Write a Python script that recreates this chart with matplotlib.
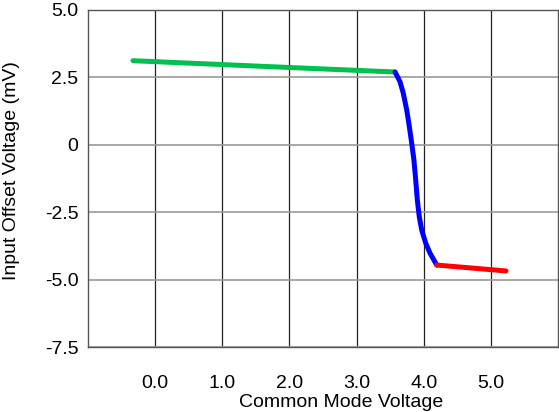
import matplotlib.pyplot as plt

plt.rcParams['font.family'] = ['Liberation Sans', 'DejaVu Sans']

# Offset voltage vs common mode voltage, split into three regions
green_x = [-0.33, 1.6, 3.573]
green_y = [3.12, 2.91, 2.70]

blue_x = [3.573, 3.647, 3.696, 3.747, 3.786, 3.821, 3.854, 3.881, 3.905,
          3.934, 3.970, 4.030, 4.094, 4.194]
blue_y = [2.70, 2.34, 1.91, 1.29, 0.67, 0.06, -0.56, -1.31, -2.05,
          -2.67, -3.16, -3.65, -4.02, -4.46]

red_x = [4.194, 5.226]
red_y = [-4.46, -4.68]

x_ticks = [0, 1, 2, 3, 4, 5]
x_labels = ['0.0', '1.0', '2.0', '3.0', '4.0', '5.0']
y_ticks = [-7.5, -5.0, -2.5, 0, 2.5, 5.0]
y_labels = ['-7.5', '-5.0', '-2.5', '0', '2.5', '5.0']

fig = plt.figure(figsize=(5.59, 4.12), dpi=100)
ax = fig.add_axes([88 / 559, 1 - 347 / 412, 470 / 559, 337 / 412])

line_kw = dict(lw=3.6, solid_capstyle='round', solid_joinstyle='round', zorder=3)
ax.plot(green_x, green_y, color='#00c050', **line_kw)
ax.plot(blue_x, blue_y, color='#0000ff', **line_kw)
ax.plot(red_x, red_y, color='#ff0000', **line_kw)

ax.set_xlim(-1, 6)
ax.set_ylim(-7.5, 5.0)
ax.set_xticks(x_ticks)
ax.set_xticklabels(x_labels)
ax.set_yticks(y_ticks)
ax.set_yticklabels(y_labels)

ax.grid(axis='x', color='#222222', lw=0.9)
ax.grid(axis='y', color='#999999', lw=1.2)
ax.set_axisbelow(True)

for side in ['left', 'right', 'top', 'bottom']:
    ax.spines[side].set_color('#555555')
    ax.spines[side].set_linewidth(1.0)

ax.tick_params(axis='x', length=0, pad=20, labelsize=14)
ax.tick_params(axis='y', length=0, pad=7, labelsize=14)

ax.set_xlabel('Common Mode Voltage', fontsize=14, va='center')
ax.xaxis.set_label_coords(0.538, -0.166)
ax.set_ylabel('Input Offset Voltage (mV)', fontsize=14, va='center')
ax.yaxis.set_label_coords(-0.162, 0.525)

fig.savefig('out.png', dpi=100)
